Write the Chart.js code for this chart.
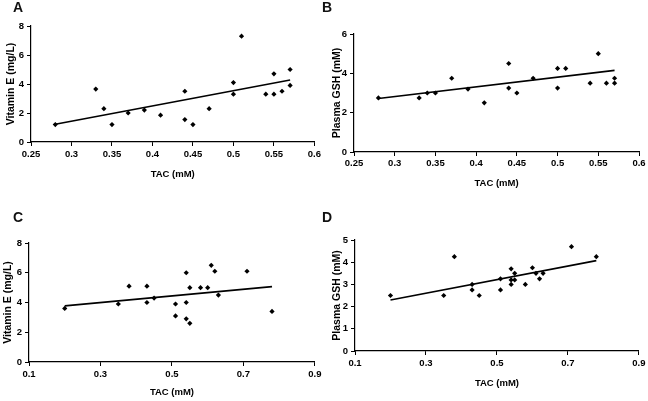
<!DOCTYPE html>
<html><head><meta charset="utf-8">
<script src="https://cdn.jsdelivr.net/npm/chart.js@4"></script>
<style>
html,body{margin:0;padding:0;background:#fff;}
#wrap{position:relative;width:648px;height:401px;overflow:hidden;background:#fff;}
canvas{position:absolute;}
.lbl{position:absolute;font:bold 14px 'Liberation Sans',Arial,sans-serif;color:#111;line-height:14px;}
</style></head><body>
<div id="wrap">
<canvas id="cA" width="324" height="200" style="left:0px;top:0px"></canvas>
<canvas id="cB" width="324" height="200" style="left:324px;top:0px"></canvas>
<canvas id="cC" width="324" height="201" style="left:0px;top:200px"></canvas>
<canvas id="cD" width="324" height="201" style="left:324px;top:200px"></canvas>
<div class="lbl" style="left:13px;top:0px">A</div>
<div class="lbl" style="left:322px;top:0px">B</div>
<div class="lbl" style="left:13px;top:210px">C</div>
<div class="lbl" style="left:322px;top:210px">D</div>
</div>
<script>
// ---- Data ----
const tacA = [0.28,0.33,0.34,0.35,0.37,0.39,0.41,0.44,0.44,0.45,0.47,0.50,0.50,0.51,0.54,0.55,0.55,0.56,0.57,0.57];
const vitEA = [1.2,3.65,2.3,1.2,2.0,2.2,1.85,3.5,1.55,1.2,2.3,4.1,3.3,7.3,3.3,4.7,3.3,3.5,5.0,3.9];
const trendAx = [0.28,0.57];
const trendAy = [1.22,4.27];

const tacB = [0.28,0.33,0.34,0.35,0.37,0.39,0.41,0.44,0.44,0.45,0.47,0.50,0.50,0.51,0.54,0.55,0.56,0.57,0.57];
const gshB = [2.75,2.75,3.0,3.0,3.75,3.2,2.5,4.5,3.25,3.0,3.75,4.25,3.25,4.25,3.5,5.0,3.5,3.75,3.5];
const trendBx = [0.28,0.57];
const trendBy = [2.72,4.15];

const tacC = [0.20,0.35,0.38,0.43,0.43,0.45,0.51,0.51,0.54,0.54,0.54,0.55,0.55,0.58,0.60,0.61,0.62,0.63,0.71,0.78];
const vitEC = [3.6,3.9,5.1,5.1,4.0,4.3,3.9,3.1,6.0,4.0,2.9,5.0,2.6,5.0,5.0,6.5,6.1,4.5,6.1,3.4];
const trendCx = [0.20,0.78];
const trendCy = [3.77,5.07];

const tacD = [0.20,0.35,0.38,0.43,0.43,0.45,0.51,0.51,0.54,0.54,0.54,0.55,0.55,0.58,0.60,0.61,0.62,0.63,0.71,0.78];
const gshD = [2.5,2.5,4.25,3.0,2.75,2.5,3.25,2.75,3.7,3.2,3.0,3.5,3.2,3.0,3.75,3.5,3.25,3.5,4.7,4.25];
const trendDx = [0.20,0.78];
const trendDy = [2.3,4.07];

const xTicksAB = [0.25,0.3,0.35,0.4,0.45,0.5,0.55,0.6];
const xTicksCD = [0.1,0.3,0.5,0.7,0.9];
const yTicksVitE = [0,2,4,6,8];
const yTicksGshB = [0,2,4,6];
const yTicksGshD = [0,1,2,3,4,5];

const xTitle = 'TAC (mM)';
const yTitleVitE = 'Vitamin E (mg/L)';
const yTitleGsh = 'Plasma GSH (mM)';

// ---- Rendering ----
const FONT = "'Liberation Sans', Arial, sans-serif";
function pts(xs, ys){ return xs.map((x,i)=>({x:x, y:ys[i]})); }

function makeChart(id, cfg){
  const el = document.getElementById(id);
  const W = el.width, H = el.height;
  const L = cfg.area[0], R = cfg.area[1], T = cfg.area[2], B = cfg.area[3];
  new Chart(el, {
    type: 'scatter',
    data: {
      datasets: [
        { data: pts(cfg.xs, cfg.ys), pointStyle: 'rectRot', radius: 2.6, hoverRadius: 2.6,
          backgroundColor: '#000', borderColor: '#000', borderWidth: 0, showLine: false },
        { data: pts(cfg.tx, cfg.ty), showLine: true, borderColor: '#000', borderWidth: 1.6,
          pointRadius: 0, fill: false }
      ]
    },
    options: {
      responsive: false, animation: false, devicePixelRatio: 1,
      layout: { padding: { left: 0, top: T, right: W - R, bottom: 0 } },
      plugins: { legend: { display: false }, tooltip: { enabled: false } },
      scales: {
        x: {
          type: 'linear', min: cfg.xt[0], max: cfg.xt[cfg.xt.length-1],
          afterBuildTicks: s => { s.ticks = cfg.xt.map(v => ({ value: v })); },
          afterFit: s => { s.height = H - B; },
          grid: { drawOnChartArea: false, drawTicks: true, tickLength: 4, color: '#000', lineWidth: 1 },
          border: { display: true, color: '#000', width: 1.2 },
          ticks: { color: '#000', font: { family: FONT, size: 9.5, weight: 'bold' }, padding: cfg.xtp,
                   maxRotation: 0, autoSkip: false, callback: v => String(v) },
          title: { display: true, text: xTitle, color: '#000',
                   font: { family: FONT, size: 9.5, weight: 'bold' }, padding: { top: 0, bottom: cfg.xtitlePad } }
        },
        y: {
          type: 'linear', min: cfg.yt[0], max: cfg.yt[cfg.yt.length-1],
          afterBuildTicks: s => { s.ticks = cfg.yt.map(v => ({ value: v })); },
          afterFit: s => { s.width = L; },
          grid: { drawOnChartArea: false, drawTicks: true, tickLength: 4, color: '#000', lineWidth: 1 },
          border: { display: true, color: '#000', width: 1.2 },
          ticks: { color: '#000', font: { family: FONT, size: 9.5, weight: 'bold' }, padding: 3,
                   autoSkip: false, callback: v => String(v) },
          title: { display: true, text: cfg.ytitle, color: '#000',
                   font: { family: FONT, size: 10.5, weight: 'bold' }, padding: { top: cfg.ytitlePad, bottom: 0 } }
        }
      }
    }
  });
}

makeChart('cA', { xs: tacA, ys: vitEA, tx: trendAx, ty: trendAy, xt: xTicksAB, yt: yTicksVitE,
  ytitle: yTitleVitE, area: [31, 315, 26, 142], xtp: 3, xtitlePad: 20, ytitlePad: 4.5 });
makeChart('cB', { xs: tacB, ys: gshB, tx: trendBx, ty: trendBy, xt: xTicksAB, yt: yTicksGshB,
  ytitle: yTitleGsh, area: [30, 315, 34, 152], xtp: 1.5, xtitlePad: 11, ytitlePad: 6.5 });
makeChart('cC', { xs: tacC, ys: vitEC, tx: trendCx, ty: trendCy, xt: xTicksCD, yt: yTicksVitE,
  ytitle: yTitleVitE, area: [29, 315, 43, 162], xtp: 2.5, xtitlePad: 2.5, ytitlePad: 1.5 });
makeChart('cD', { xs: tacD, ys: gshD, tx: trendDx, ty: trendDy, xt: xTicksCD, yt: yTicksGshD,
  ytitle: yTitleGsh, area: [31, 315, 40, 151], xtp: 2.5, xtitlePad: 12, ytitlePad: 6.5 });
</script>
</body></html>
